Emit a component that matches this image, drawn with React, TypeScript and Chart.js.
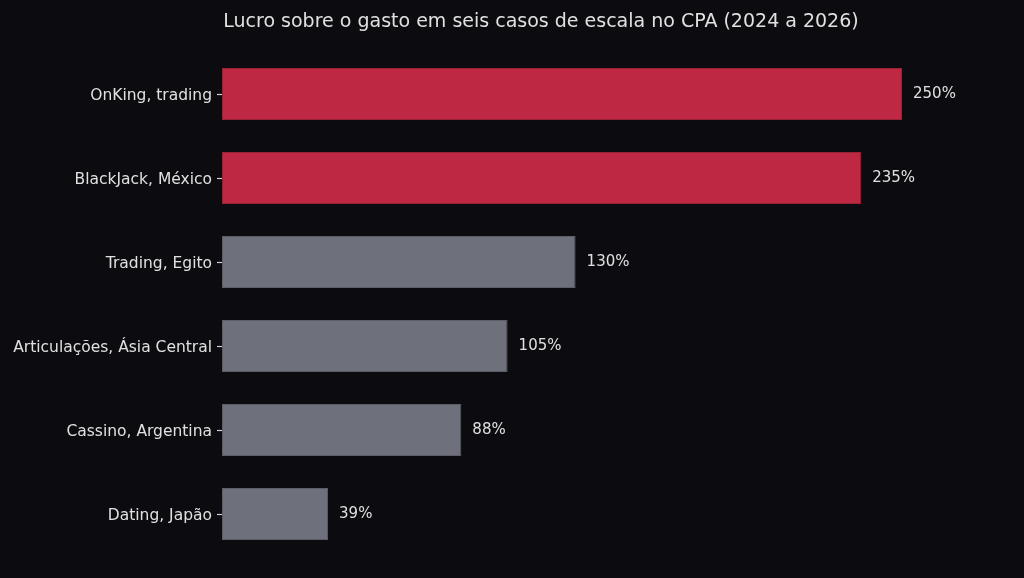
import React, { useEffect, useRef } from "react";
import { Chart, registerables } from "chart.js";

Chart.register(...registerables);

const TITLE = "Lucro sobre o gasto em seis casos de escala no CPA (2024 a 2026)";
const categories = [
  "OnKing, trading",
  "BlackJack, México",
  "Trading, Egito",
  "Articulações, Ásia Central",
  "Cassino, Argentina",
  "Dating, Japão",
];
const values = [250, 235, 130, 105, 88, 39];
const highlighted = [true, true, false, false, false, false];

const RED = "#be2843";
const GREY = "#6e707b";
const BG = "#0c0c10";
const TEXT = "#e0e0e0";
const FONT = "'DejaVu Sans', sans-serif";

export default function App() {
  const ref = useRef<HTMLCanvasElement | null>(null);

  useEffect(() => {
    document.body.style.margin = "0";
    document.body.style.background = BG;
    const canvas = ref.current!;
    const valueLabels = {
      id: "valueLabels",
      afterDatasetsDraw(chart: any) {
        const ctx = chart.ctx;
        const meta = chart.getDatasetMeta(0);
        ctx.save();
        ctx.fillStyle = TEXT;
        ctx.font = `15px ${FONT}`;
        ctx.textAlign = "left";
        ctx.textBaseline = "middle";
        meta.data.forEach((el: any, i: number) => {
          ctx.fillText(values[i] + "%", el.x + 11, el.y);
        });
        ctx.restore();
      },
    };
    const titlePlugin = {
      id: "customTitle",
      afterDraw(chart: any) {
        const ctx = chart.ctx;
        ctx.save();
        ctx.fillStyle = TEXT;
        ctx.font = `19px ${FONT}`;
        ctx.textAlign = "center";
        ctx.textBaseline = "middle";
        ctx.fillText(TITLE, 541, 22);
        ctx.restore();
      },
    };
    const bgPlugin = {
      id: "bg",
      beforeDraw(chart: any) {
        const ctx = chart.ctx;
        ctx.save();
        ctx.fillStyle = BG;
        ctx.fillRect(0, 0, chart.width, chart.height);
        ctx.restore();
      },
    };
    const chart = new Chart(canvas, {
      type: "bar",
      data: {
        labels: categories,
        datasets: [
          {
            data: values,
            backgroundColor: highlighted.map((h) => (h ? RED : GREY)),
            borderColor: highlighted.map((h) => (h ? "#9a2036" : "#5c5d66")),
            borderWidth: 1,
            borderSkipped: false,
            categoryPercentage: 1,
            barPercentage: 0.62,
          },
        ],
      },
      options: {
        indexAxis: "y",
        animation: false,
        responsive: false,
        maintainAspectRatio: false,
        layout: { padding: { top: 52, bottom: 22, left: 0, right: 54 } },
        plugins: {
          legend: { display: false },
          title: { display: false },
          tooltip: { enabled: false },
        },
        scales: {
          x: {
            min: 0,
            max: 275,
            display: false,
          },
          y: {
            afterFit(scale: any) {
              scale.width = 222;
            },
            border: { display: false },
            grid: {
              offset: false,
              drawOnChartArea: false,
              drawTicks: true,
              tickLength: 5,
              tickWidth: 1.2,
              color: "#d0d0d0",
            },
            ticks: {
              color: TEXT,
              padding: 5,
              labelOffset: 1.5,
              font: { family: FONT, size: 15.5 },
            },
          },
        },
      },
      plugins: [bgPlugin, valueLabels, titlePlugin],
    });
    return () => chart.destroy();
  }, []);

  return (
    <div style={{ width: 1024, height: 578, background: BG }}>
      <canvas ref={ref} width={1024} height={578} style={{ display: "block" }} />
    </div>
  );
}
